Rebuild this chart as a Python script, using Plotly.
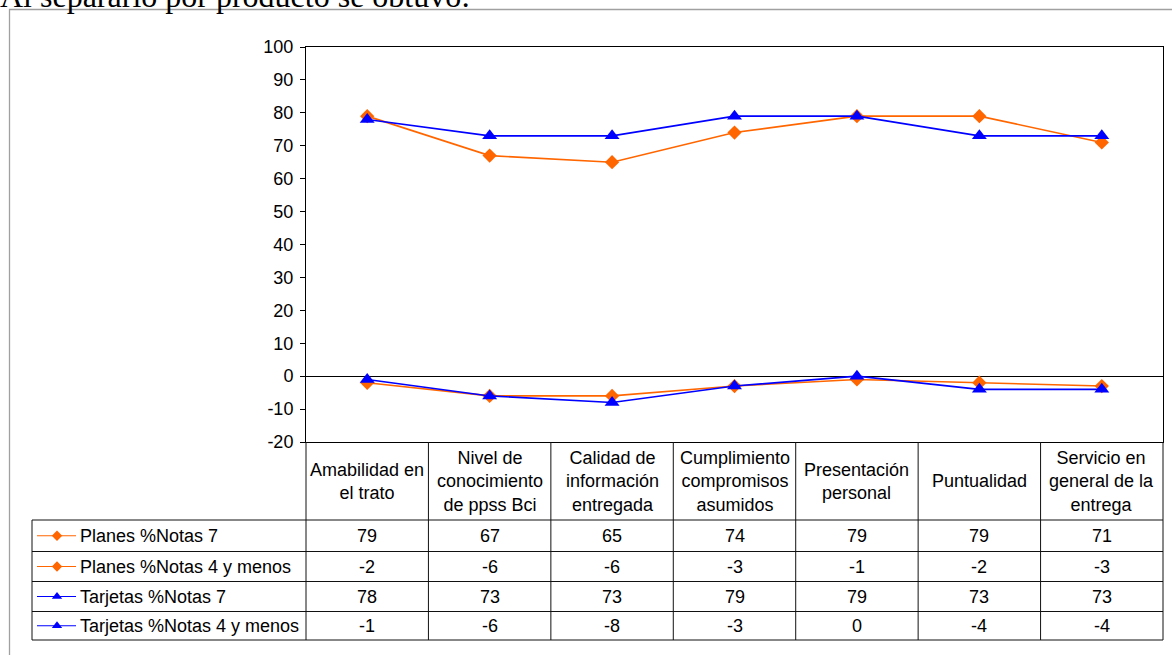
import plotly.graph_objects as go

# ---------------- data ----------------
categories = [
    "Amabilidad en<br>el trato",
    "Nivel de<br>conocimiento<br>de ppss Bci",
    "Calidad de<br>información<br>entregada",
    "Cumplimiento<br>compromisos<br>asumidos",
    "Presentación<br>personal",
    "Puntualidad",
    "Servicio en<br>general de la<br>entrega",
]
series_names = [
    "Planes %Notas 7",
    "Planes %Notas 4 y menos",
    "Tarjetas %Notas 7",
    "Tarjetas %Notas 4 y menos",
]
planes_7 = [79, 67, 65, 74, 79, 79, 71]
planes_4 = [-2, -6, -6, -3, -1, -2, -3]
tarjetas_7 = [78, 73, 73, 79, 79, 73, 73]
tarjetas_4 = [-1, -6, -8, -3, 0, -4, -4]
y_ticks = list(range(-20, 101, 10))
y_tick_labels = [str(v) for v in y_ticks]
title_text = "Al separarlo por producto se obtuvo:"

# ---------------- styling / geometry ----------------
W, H = 1172, 655
PL, PR, PT, PB = 306, 1163, 47, 442      # plot area in pixels
TL = 32                                   # table left edge
ROWS = [520, 551.5, 581.5, 611.5, 640]    # table row lines
ORANGE = "#FF6600"
BLUE = "#0000FF"
FONT = "Liberation Sans, Arial, sans-serif"
FS = 18

series_values = [planes_7, planes_4, tarjetas_7, tarjetas_4]
series_colors = [ORANGE, ORANGE, BLUE, BLUE]
series_symbols = ["diamond", "diamond", "triangle-up", "triangle-up"]
series_sizes = [11, 11, 13, 13]
legend_sizes = [8, 8, 9, 9]

n = len(categories)
xs = list(range(n))

fig = go.Figure()

for name, vals, col, sym, sz in zip(series_names, series_values, series_colors,
                                    series_symbols, series_sizes):
    fig.add_trace(go.Scatter(
        x=xs, y=vals, name=name, mode="lines+markers",
        line=dict(color=col, width=1.6),
        marker=dict(symbol=sym, size=sz, color=col, line=dict(width=0)),
        cliponaxis=False, showlegend=False,
        xaxis="x", yaxis="y",
    ))

# legend samples in the data table (pixel overlay axis)
for i, (col, sym, sz) in enumerate(zip(series_colors, series_symbols, legend_sizes)):
    yc = (ROWS[i] + ROWS[i + 1]) / 2
    fig.add_trace(go.Scatter(
        x=[37, 76], y=[yc, yc], mode="lines",
        line=dict(color=col, width=1.2), showlegend=False, hoverinfo="skip",
        xaxis="x3", yaxis="y3",
    ))
    fig.add_trace(go.Scatter(
        x=[57], y=[yc], mode="markers",
        marker=dict(symbol=sym, size=sz, color=col, line=dict(width=0)),
        showlegend=False, hoverinfo="skip", xaxis="x3", yaxis="y3",
    ))

shapes = []
line_style = dict(color="#111111", width=1)
# outer gray frame
shapes.append(dict(type="rect", xref="x3", yref="y3", x0=9.5, y0=9.5,
                   x1=1190, y1=700, line=dict(color="#a0a0a0", width=1.3)))
# horizontal table lines
for r in ROWS:
    shapes.append(dict(type="line", xref="x3", yref="y3", x0=TL, x1=PR,
                       y0=r, y1=r, line=line_style))
# left edge of legend column
shapes.append(dict(type="line", xref="x3", yref="y3", x0=TL, x1=TL,
                   y0=ROWS[0], y1=ROWS[-1], line=line_style))
# column separators
colw = (PR - PL) / n
for k in range(n + 1):
    xk = PL + k * colw
    shapes.append(dict(type="line", xref="x3", yref="y3", x0=xk, x1=xk,
                       y0=PB, y1=ROWS[-1], line=line_style))

annotations = []
# header labels
hc = (PB + ROWS[0]) / 2
for i, c in enumerate(categories):
    annotations.append(dict(xref="x", yref="y3", x=i, y=hc, text=c,
                            showarrow=False, xanchor="center", yanchor="middle",
                            align="center", font=dict(family=FONT, size=FS, color="black")))
# values + legend labels
for j, (name, vals) in enumerate(zip(series_names, series_values)):
    yc = (ROWS[j] + ROWS[j + 1]) / 2
    annotations.append(dict(xref="x3", yref="y3", x=78, y=yc, text=name,
                            showarrow=False, xanchor="left", yanchor="middle",
                            font=dict(family=FONT, size=FS, color="black")))
    for i, v in enumerate(vals):
        annotations.append(dict(xref="x", yref="y3", x=i, y=yc, text=str(v),
                                showarrow=False, xanchor="center", yanchor="middle",
                                font=dict(family=FONT, size=FS, color="black")))
# partially visible heading text (cut by the top edge, as in the reference)
annotations.append(dict(xref="paper", yref="paper", x=-2 / W, y=1 + 4 / H,
                        text=title_text, showarrow=False,
                        xanchor="left", yanchor="middle",
                        font=dict(family="Liberation Serif, Times New Roman, serif",
                                  size=32, color="black")))

fig.update_layout(
    template="none",
    width=W, height=H,
    margin=dict(l=0, r=0, t=0, b=0, pad=0, autoexpand=False),
    paper_bgcolor="white",
    plot_bgcolor="rgba(0,0,0,0)",
    showlegend=False,
    xaxis=dict(domain=[PL / W, PR / W], range=[-0.5, n - 0.5],
               showgrid=False, zeroline=False, showticklabels=False, ticks="",
               showline=True, linecolor="black", linewidth=1, mirror=True,
               fixedrange=True, anchor="y", automargin=False),
    yaxis=dict(domain=[(H - PB) / H, (H - PT) / H], range=[-20, 100],
               tickmode="array", tickvals=y_ticks, ticktext=y_tick_labels,
               ticks="outside", ticklen=5, tickcolor="black",
               ticklabelstandoff=3,
               showgrid=False, zeroline=True, zerolinecolor="black", zerolinewidth=1,
               showline=True, linecolor="black", linewidth=1, mirror=True,
               tickfont=dict(family=FONT, size=FS, color="black"),
               fixedrange=True, anchor="x", automargin=False),
    xaxis3=dict(domain=[0, 1], range=[0, W], visible=False, fixedrange=True,
                anchor="y3", automargin=False),
    yaxis3=dict(domain=[0, 1], range=[H, 0], visible=False, fixedrange=True,
                anchor="x3", automargin=False),
    shapes=shapes,
    annotations=annotations,
)

fig.write_html("out.html")
